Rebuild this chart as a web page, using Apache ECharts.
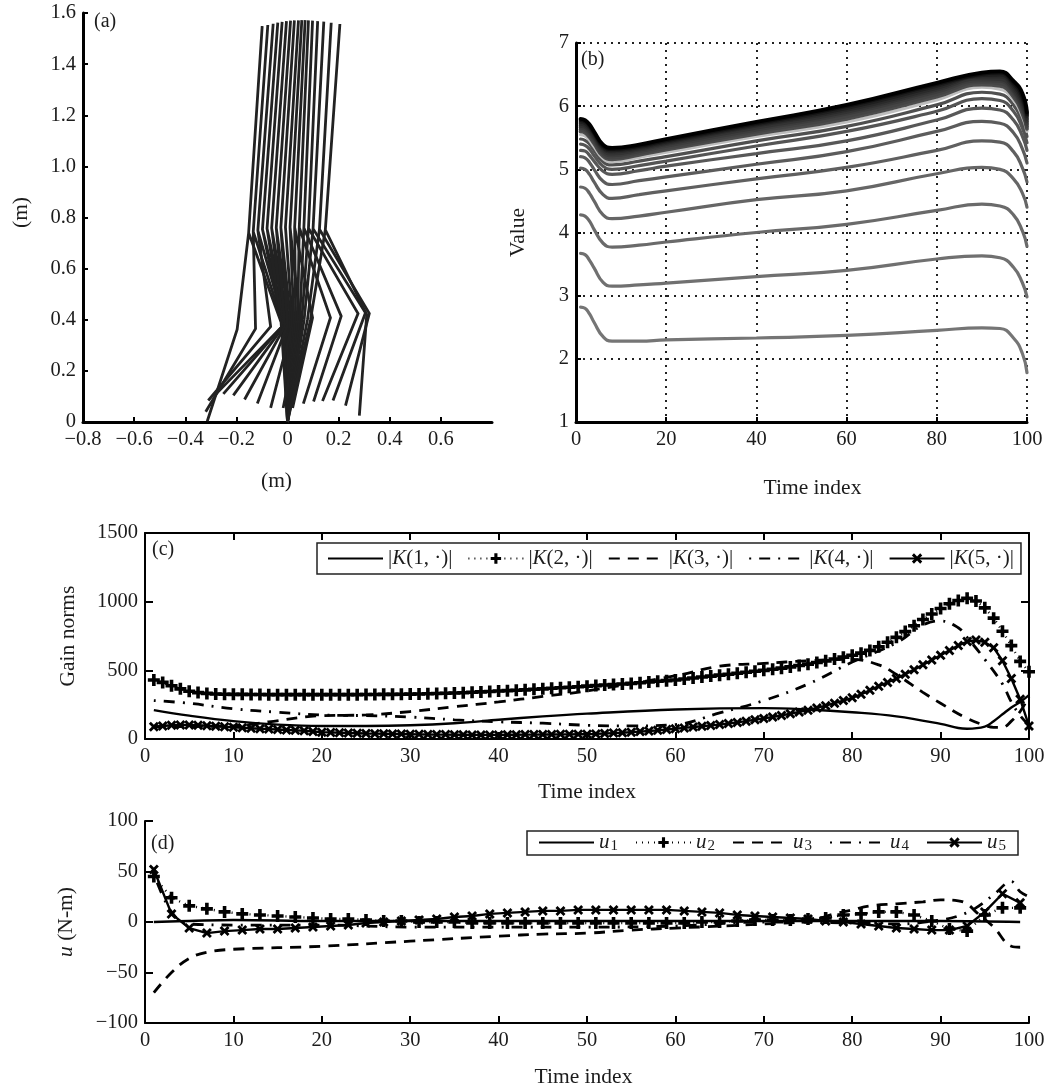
<!DOCTYPE html>
<html><head><meta charset="utf-8">
<style>html,body{margin:0;padding:0;background:#fff}#c{width:1048px;height:1089px}</style>
<script src="https://cdn.jsdelivr.net/npm/echarts@6/dist/echarts.min.js"></script>
</head><body><div id="c"></div>
<script>
// (a) stick figure frames, metres
const hipX=[-.152,-.134,-.116,-.098,-.08,-.062,-.044,-.026,-.008,.01,.028,.046,.064,.082,.1,.125,.148];
const hipY=[.74,.745,.75,.754,.757,.759,.76,.761,.762,.762,.762,.761,.76,.758,.756,.754,.752];
const topX=[-.099,-.077,-.056,-.038,-.021,-.004,.012,.027,.043,.056,.069,.082,.098,.118,.142,.171,.205];
const topY=[1.549,1.553,1.558,1.562,1.565,1.568,1.57,1.571,1.571,1.572,1.572,1.571,1.57,1.568,1.566,1.562,1.557];
const stanceKneeX=[-.025,-.02,-.015,-.01,-.005,0,.005,.012,.018,.025,.032,.04,.048,.056,.065,.078,.09];
const stanceKneeY=[.39,.39,.395,.395,.4,.4,.4,.4,.4,.4,.4,.4,.4,.4,.4,.4,.4];
const swingKneeX=[-.197,-.125,-.066,-.02,-.02,-.015,-.01,0,.02,.05,.098,.168,.21,.276,.305,.32,.31];
const swingKneeY=[.362,.365,.373,.375,.375,.375,.375,.38,.385,.39,.408,.408,.414,.424,.427,.425,.42];
const footX=[-.314,-.32,-.31,-.281,-.251,-.212,-.168,-.118,-.066,-.017,.02,.062,.102,.137,.178,.227,.281];
const footY=[.003,.04,.084,.108,.11,.104,.088,.072,.055,.055,.055,.072,.08,.082,.084,.064,.025];

// (b) value curves sampled at these time indices
const tB=[1,2,3,4,6,8,14,20,40,60,80,90,94,97,99,100];
const b01=[2.82,2.8,2.71,2.58,2.35,2.28,2.28,2.3,2.33,2.37,2.45,2.49,2.48,2.33,2.08,1.78];
const b02=[3.67,3.65,3.56,3.44,3.21,3.15,3.17,3.2,3.3,3.4,3.58,3.63,3.6,3.45,3.2,2.98];
const b03=[4.28,4.26,4.18,4.05,3.83,3.77,3.8,3.85,4,4.13,4.35,4.45,4.42,4.28,4.02,3.78];
const b04=[4.72,4.7,4.62,4.5,4.28,4.22,4.26,4.32,4.52,4.66,4.93,5.03,5,4.85,4.62,4.4];
const b05=[5.02,5,4.92,4.8,4.6,4.54,4.6,4.66,4.85,5.03,5.3,5.45,5.43,5.28,5.02,4.8];
const b06=[5.2,5.18,5.11,5,4.81,4.76,4.82,4.88,5.08,5.28,5.6,5.76,5.73,5.58,5.32,5.1];
const b07=[5.3,5.29,5.22,5.13,4.97,4.92,4.98,5.05,5.25,5.45,5.78,5.97,5.94,5.78,5.52,5.3];
const b08=[5.4,5.38,5.32,5.22,5.05,5,5.06,5.13,5.37,5.6,5.92,6.12,6.09,5.92,5.65,5.42];
const b09=[5.48,5.46,5.4,5.3,5.12,5.07,5.13,5.2,5.45,5.68,6.02,6.22,6.19,6.02,5.75,5.52];
const b10=[5.55,5.53,5.46,5.36,5.17,5.12,5.19,5.27,5.52,5.75,6.1,6.3,6.27,6.1,5.83,5.6];
const b11=[5.6,5.58,5.51,5.41,5.21,5.16,5.23,5.31,5.56,5.8,6.15,6.34,6.32,6.15,5.88,5.64];
const b12=[5.63,5.61,5.54,5.44,5.24,5.19,5.26,5.34,5.6,5.84,6.19,6.38,6.36,6.19,5.92,5.68];
const b13=[5.66,5.64,5.57,5.47,5.27,5.22,5.29,5.37,5.63,5.88,6.23,6.41,6.4,6.23,5.96,5.72];
const b14=[5.69,5.67,5.6,5.5,5.3,5.25,5.31,5.4,5.66,5.91,6.26,6.44,6.43,6.26,6,5.76];
const b15=[5.72,5.7,5.63,5.53,5.33,5.28,5.33,5.42,5.69,5.94,6.29,6.47,6.47,6.3,6.05,5.8];
const b16=[5.75,5.73,5.66,5.56,5.35,5.3,5.35,5.44,5.71,5.97,6.32,6.49,6.5,6.34,6.1,5.84];
const b17=[5.78,5.76,5.69,5.58,5.37,5.32,5.37,5.46,5.73,6,6.35,6.51,6.53,6.37,6.15,5.87];
const b18=[5.8,5.78,5.71,5.6,5.39,5.34,5.39,5.48,5.75,6.02,6.37,6.53,6.55,6.4,6.2,5.9];
const curvesB=[b01,b02,b03,b04,b05,b06,b07,b08,b09,b10,b11,b12,b13,b14,b15,b16,b17,b18];
const shadesB=['#757575','#707070','#6a6a6a','#666','#606060','#5c5c5c','#585858','#555','#505050','#bdbdbd','#4c4c4c','#444','#3c3c3c','#333','#2a2a2a','#1f1f1f','#111','#000'];

// (c) gain norms
const tK1=[1,5,10,15,20,25,30,35,40,45,50,60,70,75,80,85,90,92,93,95,96,97,98,99,100];
const k1=[210,170,130,105,95,95,100,115,140,165,185,215,225,215,195,165,110,80,75,90,130,180,230,270,320];
const k2=[430,412,388,365,348,338,332,328,326,325,325,324,324,323,323,323,323,323,323,323,323,323,323,323,324,324,325,325,326,327,328,329,331,333,335,337,340,343,346,349,352,355,358,362,365,369,373,377,381,385,389,393,397,401,405,410,415,420,425,430,437,444,451,458,465,472,479,486,493,500,508,516,525,535,545,557,569,582,596,610,625,645,672,705,740,782,825,870,910,950,985,1008,1025,1005,955,880,785,680,565,490];
const tK3=[1,10,14,20,25,30,35,40,45,50,60,65,70,75,80,83,85,88,90,93,95,96,97,98,99,100];
const k3=[90,95,125,170,175,200,235,270,310,350,460,530,550,570,580,540,470,340,260,150,100,85,85,130,200,310];
const tK4=[1,5,10,15,20,25,30,35,40,45,50,55,60,65,70,75,80,85,88,90,92,93,95,97,98,99,100];
const k4=[280,260,220,195,175,170,160,140,125,115,100,95,105,190,280,400,560,700,830,860,810,740,580,400,270,170,100];
const k5=[90,95,100,102,102,100,97,93,89,85,82,78,75,72,69,66,63,60,55,50,48,46,44,42,40,39,38,37,36,35,34,33,32,32,31,31,30,30,30,30,31,31,32,32,33,33,34,34,35,35,37,40,43,46,50,54,58,63,69,75,81,87,93,99,105,113,121,130,140,150,160,172,184,197,210,226,243,261,280,300,325,355,385,412,440,472,505,540,575,610,645,680,710,720,705,665,570,440,290,95];

// (d) inputs
const tU1=[1,5,10,20,30,40,50,60,70,80,90,99];
const u1=[0,1,2,1,1,1,1,1,1,1,1,0];
const u2=[45,24,16,13,10,8,7,6,5,4,3,3,2,1,1,0,0,0,-1,-1,-1,-1,-1,-1,-1,-1,-1,-1,-1,-1,-1,0,0,1,2,2,2,3,4,7,8,10,10,7,1,-7,-9,7,14,14];
const tU3=[1,3,5,7,10,20,30,40,45,50,55,60,70,75,78,80,82,85,88,90,92,93,94,96,98,99];
const u3=[-70,-50,-36,-30,-27,-24,-19,-14,-12,-11,-8,-6,-2,1,8,12,16,18,20,22,21,18,10,-5,-24,-25];
const tU4=[1,3,5,10,20,30,40,50,60,70,80,85,90,92,94,96,98,99,100];
const u4=[48,10,-2,-3,-3,-5,-5,-5,-4,0,-1,-2,2,6,14,27,40,30,25];
const u5=[52,8,-6,-11,-9,-8,-7,-7,-6,-5,-4,-3,-1,0,1,2,3,5,6,8,9,10,11,11,12,12,12,12,12,12,11,10,9,7,6,5,4,3,1,0,-2,-4,-6,-7,-8,-8,-4,10,28,19];

const kNames=['|{i|K}(1, ·)|','|{i|K}(2, ·)|','|{i|K}(3, ·)|','|{i|K}(4, ·)|','|{i|K}(5, ·)|'];
const uNames=['{i|u}{s|1}','{i|u}{s|2}','{i|u}{s|3}','{i|u}{s|4}','{i|u}{s|5}'];

const FONT='"Liberation Serif","Times New Roman",serif', INK='#1c1c1c';
const PLUS='path://M3.5 0h3v3.5h3.5v3h-3.5v3.5h-3v-3.5h-3.5v-3h3.5z';
const CROSS='path://M2 0L5 3L8 0L10 2L7 5L10 8L8 10L5 7L2 10L0 8L3 5L0 2Z';
const nameStyle={fontFamily:FONT,fontSize:21.5,color:INK};
const minus=s=>String(s).replace('-','−');
function axis(o){
  return Object.assign({type:'value',axisLine:{show:true,onZero:false,lineStyle:{color:'#000',width:o.lw||2}},
    axisTick:{show:true,inside:true,length:o.tick||5,lineStyle:{color:'#000',width:2}},
    axisLabel:{fontFamily:FONT,fontSize:20.5,color:INK,margin:7,formatter:o.fmt||minus},
    splitLine:{show:false},nameTextStyle:Object.assign({},nameStyle,o.namePad?{padding:o.namePad}:{},o.nameRich?{rich:o.nameRich}:{}),nameLocation:'middle'},o.x);
}
const xy=(xs,ys)=>xs.map((x,i)=>[x,ys[i]]);
const oneBased=a=>a.map((v,i)=>[i+1,v]);
const odd=a=>a.map((v,i)=>[2*i+1,v]);
const fix=v=>v===0?'0':minus(v.toFixed(1));

const grid=[
 {left:83,top:13,width:409,height:409},
 {left:576,top:43,width:451,height:379},
 {left:145,top:533,width:884,height:206},
 {left:145,top:821,width:884,height:206}];
const dotted={show:true,lineStyle:{color:'#222',width:2,type:[2,5]}};

const xAxis=[
 axis({lw:3,fmt:fix,namePad:[0,22,0,0],x:{gridIndex:0,min:-.8,max:.8,interval:.2,name:'(m)',nameGap:48}}),
 axis({lw:3,namePad:[0,0,0,22],x:{gridIndex:1,min:0,max:100,interval:20,name:'Time index',nameGap:55,splitLine:dotted}}),
 axis({x:{gridIndex:2,min:0,max:100,interval:10,name:'Time index',nameGap:42}}),
 axis({namePad:[0,7,0,0],x:{gridIndex:3,min:0,max:100,interval:10,name:'Time index',nameGap:43}})
];
xAxis[0].axisLabel.showMaxLabel=false;
xAxis[2].axisTick.length=7;xAxis[3].axisTick.length=7;
const yAxis=[
 axis({lw:3,fmt:fix,namePad:[0,0,0,10],x:{gridIndex:0,min:0,max:1.6,interval:.2,name:'(m)',nameGap:51}}),
 axis({lw:3,x:{gridIndex:1,min:1,max:7,interval:1,name:'Value',nameGap:47,splitLine:dotted}}),
 axis({tick:8,x:{gridIndex:2,min:0,max:1500,interval:500,name:'Gain norms',nameGap:66}}),
 axis({tick:8,nameRich:{i:{fontFamily:FONT,fontSize:21.5,fontStyle:'italic',color:INK}},
   x:{gridIndex:3,min:-100,max:100,interval:50,name:'{i|u} (N-m)',nameGap:68}})
];
// panel (c) has a closed box: mirror axes along the top and right
xAxis.push(axis({x:{gridIndex:2,position:'top',min:0,max:100,interval:10,axisLabel:{show:false}}}));
xAxis[4].axisTick.length=7;
yAxis.push(axis({tick:8,x:{gridIndex:2,position:'right',min:0,max:1500,interval:500,axisLabel:{show:false}}}));

const series=[];
hipX.forEach((_,i)=>series.push({type:'line',xAxisIndex:0,yAxisIndex:0,symbol:'none',silent:true,
  lineStyle:{width:2.8,color:'#222',join:'miter'},
  data:[[0,0],[stanceKneeX[i],stanceKneeY[i]],[hipX[i],hipY[i]],[topX[i],topY[i]],[hipX[i],hipY[i]],[swingKneeX[i],swingKneeY[i]],[footX[i],footY[i]]]}));
curvesB.forEach((c,i)=>series.push({type:'line',xAxisIndex:1,yAxisIndex:1,symbol:'none',silent:true,
  smooth:.5,lineStyle:{width:i<10?3.2:3.8,color:shadesB[i],cap:'round'},data:xy(tB,c)}));

function gainSeries(name,data,ls,sym,sx,sy){
  return {name,type:'line',xAxisIndex:sx,yAxisIndex:sy,data,smooth:sym?false:.4,
    lineStyle:Object.assign({color:'#000',width:2.4},ls),itemStyle:{color:'#000'},
    symbol:sym||'none',symbolSize:sym===PLUS?12:10,showSymbol:!!sym,showAllSymbol:true,clip:false};
}
const DASH={type:[11,8],width:2.8}, DASHDOT={type:[2,8,11,8],width:2.8};
series.push(gainSeries(kNames[0],xy(tK1,k1),{},null,2,2));
series.push(gainSeries(kNames[2],xy(tK3,k3),DASH,null,2,2));
series.push(gainSeries(kNames[3],xy(tK4,k4),DASHDOT,null,2,2));
series.push(gainSeries(kNames[1],oneBased(k2),{type:[1,5]},PLUS,2,2));
series.push(gainSeries(kNames[4],oneBased(k5),{},CROSS,2,2));
series.push(gainSeries(uNames[0],xy(tU1,u1),{},null,3,3));
series.push(gainSeries(uNames[2],xy(tU3,u3),DASH,null,3,3));
series.push(gainSeries(uNames[3],xy(tU4,u4),DASHDOT,null,3,3));
series.push(gainSeries(uNames[1],odd(u2),{type:[1,5]},PLUS,3,3));
series.push(gainSeries(uNames[4],odd(u5),{},CROSS,3,3));

const hideMark={itemStyle:{opacity:0}};
const legendData=(n)=>[{name:n[0],...hideMark},{name:n[1]},{name:n[2],...hideMark},{name:n[3],...hideMark},{name:n[4]}];
const richBase={fontFamily:FONT,fontSize:21,color:INK};
const legendBase={orient:'horizontal',backgroundColor:'#fff',borderColor:'#222',borderWidth:1.5,borderRadius:0,
  itemWidth:55,itemHeight:13,inactiveColor:'#000',selectedMode:false};
const legend=[
 Object.assign({},legendBase,{data:legendData(kNames),left:317,top:543,width:702,itemGap:15,itemTextGap:6,padding:[5,7,5,10],
  textStyle:Object.assign({},richBase,{rich:{i:{fontFamily:FONT,fontSize:21,fontStyle:'italic',color:INK}}})}),
 Object.assign({},legendBase,{data:legendData(uNames),left:527,top:831,width:492,itemGap:17,itemTextGap:8,padding:[1,12,1,11],
  textStyle:Object.assign({},richBase,{rich:{i:{fontFamily:FONT,fontSize:21,fontStyle:'italic',color:INK},
    s:{fontFamily:FONT,fontSize:15,color:INK,verticalAlign:'bottom',padding:[8,0,0,1]}}})})
];
const panelTitle=(text,left,top)=>({text,left,top,padding:0,textStyle:{fontFamily:FONT,fontSize:20,fontWeight:'normal',color:INK}});
const title=[panelTitle('(a)',94,12),panelTitle('(b)',581,50),panelTitle('(c)',152,540),panelTitle('(d)',151,834)];

echarts.init(document.getElementById('c'),null,{renderer:'canvas'}).setOption({
  animation:false,backgroundColor:'#fff',title,grid,xAxis,yAxis,series,legend
});
</script></body></html>
